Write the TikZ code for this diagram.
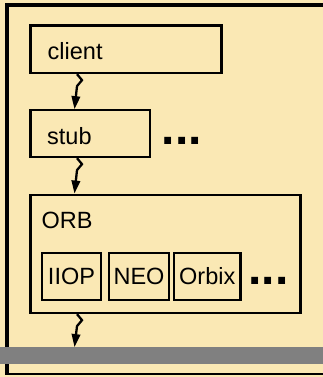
\documentclass[tikz,border=0pt]{standalone}
\usepackage{fontspec}
\setmainfont{Liberation Sans}
\usetikzlibrary{arrows.meta}
\definecolor{paper}{RGB}{250,232,180}
\definecolor{busgray}{RGB}{128,128,128}
\tikzset{
  box/.style={draw=black, line width=2.3pt, inner sep=0pt, rectangle},
  txt/.style={font=\fontsize{23.5}{27}\selectfont},
  lbl/.style={txt, anchor=base west, inner sep=0pt},
  more/.style={anchor=base west, inner sep=0pt, font=\fontsize{48}{50}\selectfont\bfseries},
  call/.style={line width=2.3pt, -{Triangle[length=13pt,width=8.5pt]}},
}
\begin{document}
\begin{tikzpicture}[x=1pt, y=-1pt]
  % page and background
  \useasboundingbox (0,0) rectangle (323,377);
  \fill[paper] (0,0) rectangle (323,377);
  % enclosing frame (open on the right)
  \fill[black] (5,3.3) rectangle (323,7);
  \fill[black] (5,3.3) rectangle (9,375.3);
  \fill[black] (5,373.3) rectangle (323,375.3);
  % network bus
  \node (bus) [fill=busgray, inner sep=0pt, minimum width=323pt, minimum height=17pt] at (161.5,355.8) {};

  % layers
  \node (client) [box, minimum width=191pt, minimum height=47.5pt] at (126,49.25) {};
  \node (clientlbl) [lbl] at (47.5,60) {client};

  \node (stub) [box, minimum width=119.5pt, minimum height=46.7pt] at (90.25,133.65) {};
  \node (stublbl) [lbl] at (47,144) {stub};
  \node (stubmore) [more] at (161.6,144) {...};

  \node (orb) [box, minimum width=270pt, minimum height=118.3pt] at (165.5,253.85) {};
  \node (orblbl) [lbl] at (41.5,228.3) {ORB};

  % protocol modules inside the ORB
  \node (iiop) [box, txt, minimum width=59pt, minimum height=47pt] at (71.5,276.5) {IIOP};
  \node (neo) [box, txt, minimum width=60pt, minimum height=47pt] at (139,276.5) {NEO};
  \node (orbix) [box, txt, minimum width=66.5pt, minimum height=47pt] at (207.25,276.5) {Orbix};
  \node (orbmore) [more] at (248.3,284.3) {...};

  % calls passed down the stack
  \draw[call] ([xshift=-49pt]client.south) -- ++(5,6) -- ++(-5,6) -- ([xshift=-15.75pt]stub.north);
  \draw[call] ([xshift=-13.25pt]stub.south) -- ++(5,6) -- ++(-5,6) -- ([xshift=-91pt]orb.north);
  \draw[call] ([xshift=-88.5pt]orb.south) -- ++(5,6) -- ++(-5,6) -- ([xshift=-87pt]bus.north);
\end{tikzpicture}
\end{document}
